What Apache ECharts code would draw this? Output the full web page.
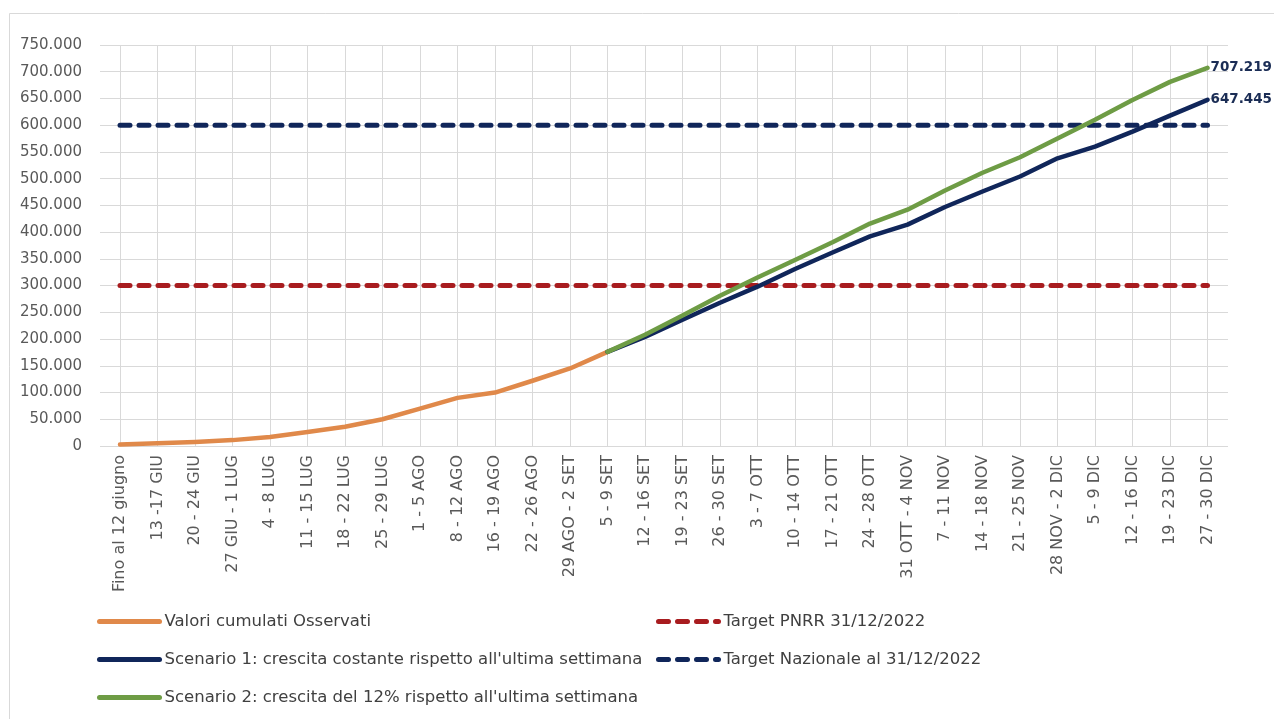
<!DOCTYPE html>
<html>
<head>
<meta charset="utf-8">
<script src="https://cdn.jsdelivr.net/npm/echarts@6/dist/echarts.min.js"></script>
<style>
html,body{margin:0;padding:0;background:#fff;}
#chart{width:1274px;height:719px;}
</style>
</head>
<body>
<div id="chart"></div>
<script>
const categories = ['Fino al 12 giugno','13 -17 GIU','20 - 24 GIU','27 GIU - 1 LUG','4 - 8 LUG','11 - 15 LUG','18 - 22 LUG','25 - 29 LUG','1 - 5 AGO','8 - 12 AGO','16 - 19 AGO','22 - 26 AGO','29 AGO - 2 SET','5 - 9 SET','12 - 16 SET','19 - 23 SET','26 - 30 SET','3 - 7 OTT','10 - 14 OTT','17 - 21 OTT','24 - 28 OTT','31 OTT - 4 NOV','7 - 11 NOV','14 - 18 NOV','21 - 25 NOV','28 NOV - 2 DIC','5 - 9 DIC','12 - 16 DIC','19 - 23 DIC','27 - 30 DIC'];

const observed = [3000, 5000, 7500, 11000, 17000, 26000, 36000, 50000, 70000, 90000, 100000, 122000, 145000, 176000];

const scenario1 = [null, null, null, null, null, null, null, null, null, null, null, null, null,
  176000, 204000, 236000, 268000, 298000, 331000, 362000, 392000, 414000, 447000, 476000, 504000, 538000, 560000, 588000, 618000, 647445];

const scenario2 = [null, null, null, null, null, null, null, null, null, null, null, null, null,
  176000, 208000, 244000, 281000, 315000, 348000, 381000, 416000, 442000, 478000, 511000, 540000, 575000, 610000, 647000, 681000, 707219];

const targetPNRR = [300000, 300000, 300000, 300000, 300000, 300000, 300000, 300000, 300000, 300000,
  300000, 300000, 300000, 300000, 300000, 300000, 300000, 300000, 300000, 300000,
  300000, 300000, 300000, 300000, 300000, 300000, 300000, 300000, 300000, 300000];

const targetNazionale = [600000, 600000, 600000, 600000, 600000, 600000, 600000, 600000, 600000, 600000,
  600000, 600000, 600000, 600000, 600000, 600000, 600000, 600000, 600000, 600000,
  600000, 600000, 600000, 600000, 600000, 600000, 600000, 600000, 600000, 600000];

const seriesNames = ['Valori cumulati Osservati', 'Target PNRR 31/12/2022',
  'Scenario 1: crescita costante rispetto all\'ultima settimana',
  'Target Nazionale al 31/12/2022',
  'Scenario 2: crescita del 12% rispetto all\'ultima settimana'];

function fmt(n) {
  return String(n).replace(/\B(?=(\d{3})+(?!\d))/g, '.');
}

const FONT = 'DejaVu Sans';
const GRID_COLOR = '#d9d9d9';
const ORANGE = '#E0894A';
const RED = '#A81C1F';
const NAVY = '#10265A';
const GREEN = '#6E9C45';

const chart = echarts.init(document.getElementById('chart'), null, {renderer: 'canvas'});

function legend(name, left, top) {
  return {
    data: [name], left: left, top: top, orient: 'horizontal', padding: 0,
    itemWidth: 60, itemHeight: 14, selectedMode: false,
    itemStyle: {opacity: 0},
    lineStyle: {width: 5, cap: 'round'},
    textStyle: {fontFamily: FONT, fontSize: 16.5, color: '#404040'}
  };
}

const option = {
  animation: false,
  backgroundColor: '#fff',
  graphic: [{
    type: 'rect', silent: true, z: -10,
    shape: {x: 9.5, y: 13.5, width: 1300, height: 800},
    style: {fill: null, stroke: GRID_COLOR, lineWidth: 1}
  }],
  legend: [
    legend(seriesNames[0], 97, 613),
    legend(seriesNames[1], 656, 613),
    legend(seriesNames[2], 97, 651),
    legend(seriesNames[4], 97, 689),
    legend(seriesNames[3], 656, 651)
  ],
  grid: [
    {left: 120, right: 66.5, top: 45, bottom: 273},
    {left: 100, right: 46, top: 45, bottom: 273}
  ],
  xAxis: [
    {
      type: 'category', gridIndex: 0, data: categories, boundaryGap: false,
      axisLine: {show: false}, axisTick: {show: false},
      axisLabel: {rotate: 90, interval: 0, margin: 9, fontFamily: FONT, fontSize: 16, color: '#595959'},
      splitLine: {show: true, interval: 0, lineStyle: {color: GRID_COLOR, width: 1}}
    },
    {type: 'value', gridIndex: 1, show: false, min: 0, max: 1}
  ],
  yAxis: [
    {type: 'value', gridIndex: 0, min: 0, max: 750000, interval: 50000, show: false, splitLine: {show: false}},
    {
      type: 'value', gridIndex: 1, min: 0, max: 750000, interval: 50000,
      axisLine: {show: false}, axisTick: {show: false},
      axisLabel: {margin: 18, fontFamily: FONT, fontSize: 15, color: '#595959', formatter: v => fmt(v)},
      splitLine: {show: true, lineStyle: {color: GRID_COLOR, width: 1}}
    }
  ],
  series: [
    {
      name: seriesNames[0], type: 'line', xAxisIndex: 0, yAxisIndex: 0, data: observed,
      symbol: 'none', smooth: false, z: 3,
      lineStyle: {color: ORANGE, width: 4.5, cap: 'round', join: 'round'},
      itemStyle: {color: ORANGE}
    },
    {
      name: seriesNames[1], type: 'line', xAxisIndex: 0, yAxisIndex: 0, data: targetPNRR,
      symbol: 'none', z: 2,
      lineStyle: {color: RED, width: 5, type: [10, 9], cap: 'round'},
      itemStyle: {color: RED}
    },
    {
      name: seriesNames[2], type: 'line', xAxisIndex: 0, yAxisIndex: 0, data: scenario1,
      symbol: 'none', z: 3,
      lineStyle: {color: NAVY, width: 4.5, cap: 'round', join: 'round'},
      itemStyle: {color: NAVY},
      endLabel: {show: true, formatter: p => fmt(p.value), distance: 3,
        color: '#1B2D55', fontWeight: 'bold', fontFamily: FONT, fontSize: 13.5}
    },
    {
      name: seriesNames[3], type: 'line', xAxisIndex: 0, yAxisIndex: 0, data: targetNazionale,
      symbol: 'none', z: 2,
      lineStyle: {color: NAVY, width: 5, type: [10, 9], cap: 'round'},
      itemStyle: {color: NAVY}
    },
    {
      name: seriesNames[4], type: 'line', xAxisIndex: 0, yAxisIndex: 0, data: scenario2,
      symbol: 'none', z: 4,
      lineStyle: {color: GREEN, width: 4.5, cap: 'round', join: 'round'},
      itemStyle: {color: GREEN},
      endLabel: {show: true, formatter: p => fmt(p.value), distance: 3,
        color: '#1B2D55', fontWeight: 'bold', fontFamily: FONT, fontSize: 13.5}
    }
  ]
};

chart.setOption(option);
</script>
</body>
</html>
